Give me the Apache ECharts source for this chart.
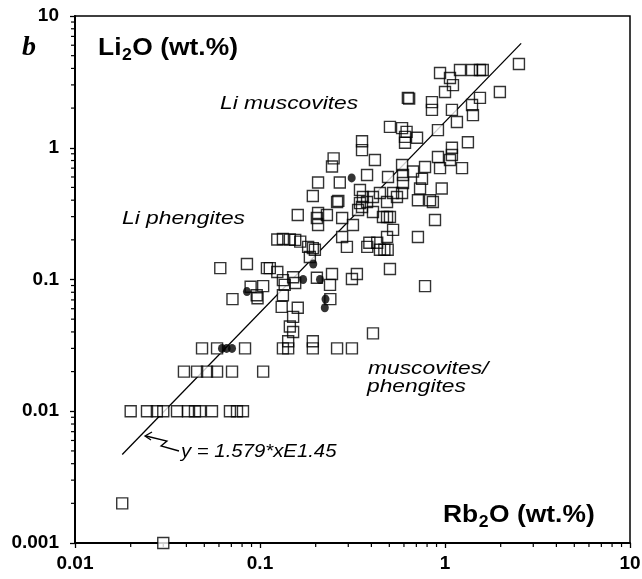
<!DOCTYPE html>
<html><head><meta charset="utf-8">
<script src="https://cdn.jsdelivr.net/npm/echarts@6/dist/echarts.min.js"></script>
<style>html,body{margin:0;padding:0;background:#fff}#c{width:642px;height:579px}</style>
</head><body><div id="c"></div>
<script>
// ---------- data ----------
const xTickLabels = ['0.01', '0.1', '1', '10'];
const yTickLabels = ['0.001', '0.01', '0.1', '1', '10'];
const xMinorTicks = [0.02,0.03,0.04,0.05,0.06,0.07,0.08,0.09,0.2,0.3,0.4,0.5,0.6,0.7,0.8,0.9,2,3,4,5,6,7,8,9];
const yMinorTicks = [0.002,0.003,0.004,0.005,0.006,0.007,0.008,0.009,0.02,0.03,0.04,0.05,0.06,0.07,0.08,0.09,0.2,0.3,0.4,0.5,0.6,0.7,0.8,0.9,2,3,4,5,6,7,8,9];

// open squares: Rb2O (x) and Li2O (y), wt.%
const sqX = [
  0.03, 0.018,
  0.02, 0.0245, 0.0277, 0.03, 0.0356, 0.0408, 0.0445, 0.0474, 0.055, 0.0688, 0.0751, 0.0809,
  0.0388, 0.0457, 0.0517, 0.0586, 0.0706, 0.104,
  0.0486, 0.0586, 0.083, 0.133, 0.142, 0.193, 0.261, 0.314, 0.142, 0.193,
  0.408, 0.78, 0.504,
  0.071, 0.089, 0.096, 0.097, 0.104, 0.131, 0.16, 0.151, 0.145, 0.151, 0.133, 0.133, 0.136, 0.151, 0.155, 0.124, 0.109, 0.113, 0.061, 0.085,
  0.203, 0.245, 0.239, 0.314, 0.334, 0.24,
  0.124, 0.133, 0.145, 0.155, 0.165, 0.182, 0.193, 0.186, 0.198,
  0.16, 0.206, 0.203, 0.206, 0.23, 0.278, 0.318, 0.278, 0.295,
  0.193, 0.261, 0.265, 0.206, 0.27, 0.25, 0.245,
  0.356, 0.356, 0.418, 0.379, 0.492, 0.586, 0.593, 0.593, 0.672, 0.78, 0.751,
  0.916, 1.09, 1.09, 1.064, 1.236, 0.94, 0.96, 0.733, 0.714, 0.83, 0.86, 0.883, 0.714,
  0.347, 0.36, 0.347, 0.379, 0.408, 0.445, 0.486, 0.524, 0.55, 0.586, 0.339, 0.356, 0.408, 0.462, 0.486, 0.504, 0.524, 0.486,
  0.43, 0.445, 0.47, 0.49, 0.39, 0.38,
  0.504, 0.586, 0.608, 0.62, 0.608, 0.706,
  0.63, 0.64, 0.85, 0.85, 1.09, 1.16, 1.4, 1.416, 1.545, 0.916, 1.33, 1.0,
  0.94, 1.064, 1.104, 1.205, 1.4, 1.545, 1.6, 1.98, 2.51
];
const sqY = [
  0.001, 0.002,
  0.01, 0.01, 0.01, 0.01, 0.01, 0.01, 0.01, 0.01, 0.01, 0.01, 0.01, 0.01,
  0.02, 0.02, 0.02, 0.02, 0.02, 0.02,
  0.03, 0.03, 0.03, 0.03, 0.03, 0.03, 0.03, 0.03, 0.034, 0.034,
  0.039, 0.089, 0.12,
  0.071, 0.088, 0.076, 0.072, 0.089, 0.062, 0.061, 0.052, 0.044, 0.040, 0.076, 0.099, 0.091, 0.104, 0.094, 0.114, 0.122, 0.122, 0.122, 0.131,
  0.103, 0.11, 0.091, 0.101, 0.11, 0.071,
  0.201, 0.203, 0.201, 0.2, 0.194, 0.177, 0.173, 0.148, 0.168,
  0.309, 0.32, 0.293, 0.259, 0.309, 0.293, 0.259, 0.21, 0.177,
  0.43, 0.387, 0.395, 0.545, 0.545, 0.83, 0.72,
  1.12, 0.96, 0.807, 0.621, 0.6, 0.74, 0.621, 0.54, 0.66, 0.715, 0.58,
  0.85, 1.0, 0.88, 0.807, 0.7, 0.7, 0.49, 0.49, 0.4, 0.4, 0.387, 0.283, 0.21,
  0.478, 0.423, 0.38, 0.387, 0.423, 0.454, 0.387, 0.454, 0.423, 0.454, 0.337, 0.355, 0.325, 0.298, 0.298, 0.298, 0.238, 0.21,
  0.19, 0.168, 0.168, 0.168, 0.19, 0.177,
  1.44, 1.41, 1.21, 1.32, 1.09, 1.19,
  2.39, 2.36, 2.22, 1.94, 1.94, 1.57, 2.11, 1.77, 2.39, 1.36, 1.1, 2.65,
  3.69, 3.38, 2.99, 3.89, 3.89, 3.89, 3.89, 2.65, 4.32
];

// filled dots
const dotX = [0.0623, 0.066, 0.0706, 0.085, 0.171, 0.211, 0.194, 0.226, 0.224, 0.313];
const dotY = [0.03, 0.03, 0.03, 0.081, 0.1, 0.1, 0.131, 0.071, 0.061, 0.59];

// regression line y = 1.579*x^1.45, end points as drawn
const fitX = [0.018, 2.58];
const fitY = [0.0047, 6.2];

// ---------- chart ----------
const FONT = '"Liberation Sans", Arial, sans-serif';
const zip = (a, b) => a.map((v, i) => [v, b[i]]);
const fmt = labels => v => {
  const s = labels.find(t => Math.abs(Math.log10(+t) - Math.log10(v)) < 1e-6);
  return s || '';
};
const measureCtx = document.createElement('canvas').getContext('2d');
function tw(text, font) { measureCtx.font = font; return measureCtx.measureText(text).width; }

function subLabel(x, y, pre, sub, post, size, subSize, sx) {
  const fMain = 'bold ' + size + 'px ' + FONT;
  const fSub = 'bold ' + subSize + 'px ' + FONT;
  const w1 = tw(pre, fMain), w2 = tw(sub, fSub);
  return {
    type: 'group', x: x, y: y, scaleX: sx, children: [
      { type: 'text', x: 0, y: 0, style: { text: pre, font: fMain, fill: '#000', textAlign: 'left', textVerticalAlign: 'middle' } },
      { type: 'text', x: w1 + 0.5, y: size * 0.3, style: { text: sub, font: fSub, fill: '#000', textAlign: 'left', textVerticalAlign: 'middle' } },
      { type: 'text', x: w1 + w2 + 1, y: 0, style: { text: post, font: fMain, fill: '#000', textAlign: 'left', textVerticalAlign: 'middle' } }
    ]
  };
}
function itText(x, y, text, size, sx) {
  return { type: 'text', x: x, y: y, scaleX: sx,
    style: { text: text, font: 'italic ' + size + 'px ' + FONT, fill: '#000', textAlign: 'left', textVerticalAlign: 'middle' } };
}

const tickSeries = (data, horizontal) => ({
  type: 'custom', coordinateSystem: 'cartesian2d', clip: false, silent: true, z: 1,
  data: data,
  renderItem: function (params, api) {
    const p = api.coord([api.value(0), api.value(1)]);
    return horizontal
      ? { type: 'line', shape: { x1: p[0], y1: p[1], x2: p[0], y2: p[1] + 4 }, style: { stroke: '#000', lineWidth: 1.2 } }
      : { type: 'line', shape: { x1: p[0], y1: p[1], x2: p[0] - 4, y2: p[1] }, style: { stroke: '#000', lineWidth: 1.2 } };
  }
});

const chart = echarts.init(document.getElementById('c'), null, { renderer: 'canvas' });
chart.setOption({
  animation: false,
  backgroundColor: '#fff',
  grid: { left: 75, right: 12, top: 16, bottom: 36, show: true, borderColor: '#000', borderWidth: 1.5, containLabel: false, outerBoundsMode: 'none' },
  xAxis: {
    type: 'log', logBase: 10, min: 0.01, max: 10,
    axisLine: { show: true, lineStyle: { color: '#000', width: 2 } },
    axisTick: { show: true, inside: false, length: 5, lineStyle: { color: '#000', width: 1.3 } },
    axisLabel: { color: '#000', fontFamily: FONT, fontWeight: 'bold', fontSize: 19, margin: 11, formatter: fmt(xTickLabels) },
    splitLine: { show: false }
  },
  yAxis: {
    type: 'log', logBase: 10, min: 0.001, max: 10,
    axisLine: { show: true, lineStyle: { color: '#000', width: 2 } },
    axisTick: { show: true, inside: false, length: 5, lineStyle: { color: '#000', width: 1.3 } },
    axisLabel: { color: '#000', fontFamily: FONT, fontWeight: 'bold', fontSize: 19, margin: 16, formatter: fmt(yTickLabels) },
    splitLine: { show: false }
  },
  series: [
    tickSeries(xMinorTicks.map(v => [v, 0.001]), true),
    tickSeries(yMinorTicks.map(v => [0.01, v]), false),
    { type: 'line', data: zip(fitX, fitY), symbol: 'none', silent: true, z: 2,
      lineStyle: { color: '#000', width: 1.3 } },
    { type: 'scatter', data: zip(sqX, sqY), symbol: 'rect', symbolSize: 11, silent: true, z: 3,
      itemStyle: { color: '#fff', borderWidth: 0 } },
    { type: 'scatter', data: zip(sqX, sqY), symbol: 'rect', symbolSize: 11, silent: true, z: 4,
      itemStyle: { color: 'rgba(0,0,0,0)', borderColor: '#000', borderWidth: 1.4 } },
    { type: 'scatter', data: zip(dotX, dotY), symbol: 'circle', symbolSize: [8, 9], silent: true, z: 5,
      itemStyle: { color: '#000' } }
  ],
  graphic: [
    { type: 'text', x: 22, y: 48, style: { text: 'b', font: 'italic bold 28px "Liberation Serif", serif', fill: '#000', textAlign: 'left', textVerticalAlign: 'middle' } },
    subLabel(98, 48, 'Li', '2', 'O (wt.%)', 24, 16, 1.1),
    subLabel(443, 515, 'Rb', '2', 'O (wt.%)', 24, 16, 1.1),
    itText(220, 104, 'Li muscovites', 19, 1.2),
    itText(122, 219, 'Li phengites', 19, 1.2),
    itText(368, 369, 'muscovites/', 19, 1.2),
    itText(367, 387, 'phengites', 19, 1.2),
    itText(181, 452, 'y = 1.579*xE1.45', 18, 1.13),
    { type: 'polyline', shape: { points: [[179, 451], [161, 446], [167, 441], [146, 436]] }, style: { stroke: '#000', lineWidth: 1.3, fill: null } },
    { type: 'polyline', shape: { points: [[152, 432], [145, 436], [151, 440]] }, style: { stroke: '#000', lineWidth: 1.3, fill: null } }
  ]
});
</script>
</body></html>
